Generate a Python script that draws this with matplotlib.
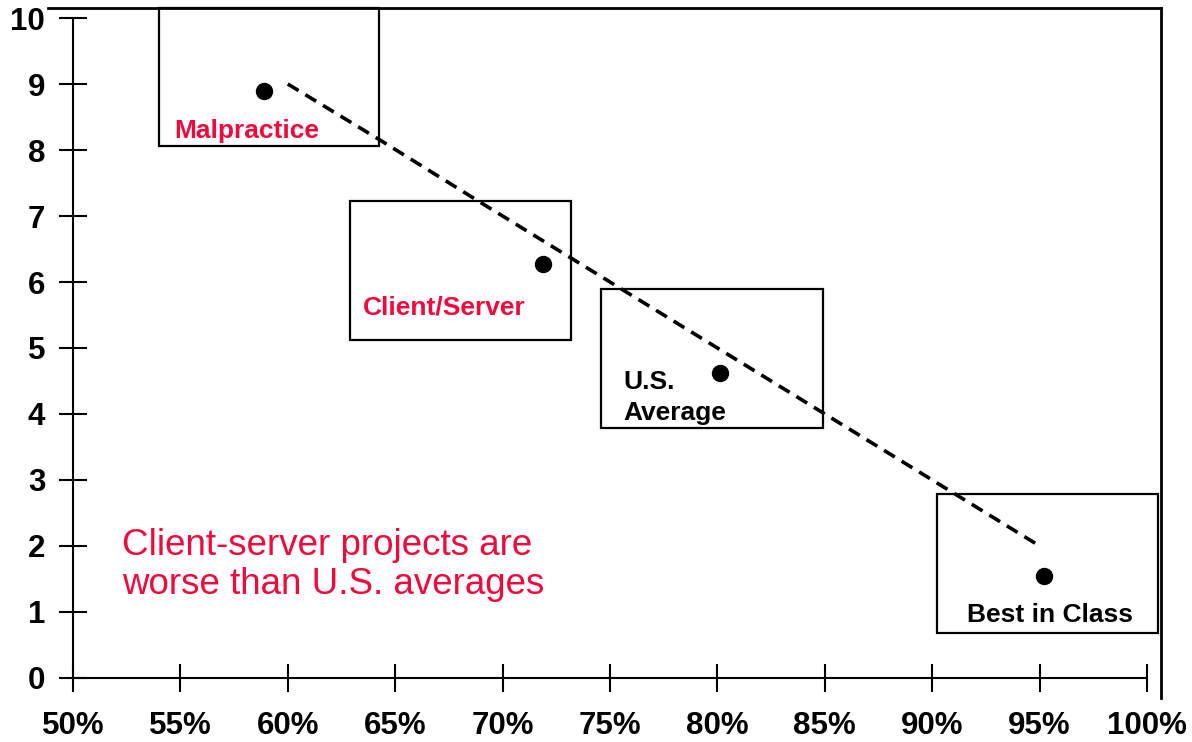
import matplotlib.pyplot as plt
from matplotlib.patches import Rectangle
from matplotlib.lines import Line2D

plt.rcParams['font.family'] = ['Liberation Sans', 'DejaVu Sans']

# Punkty (procent, wartosc)
point_names = ['Malpractice', 'Client/Server', 'U.S.\nAverage', 'Best in Class']
point_x = [58.9, 71.9, 80.1, 95.2]
point_y = [8.9, 6.27, 4.62, 1.55]

# Linia trendu
trend_x = [60, 64.3, 69, 75, 80, 85, 90, 95]
trend_y = [9.0, 8.15, 7.2, 6.0, 5.0, 4.0, 3.0, 2.0]

x_ticks = [50, 55, 60, 65, 70, 75, 80, 85, 90, 95, 100]
x_labels = ['50%', '55%', '60%', '65%', '70%', '75%', '80%', '85%', '90%', '95%', '100%']
y_ticks = [0, 1, 2, 3, 4, 5, 6, 7, 8, 9, 10]

red = '#ee0a3c'

fig = plt.figure(figsize=(11.92, 7.42), dpi=100)
ax = fig.add_axes([0.0612, 0.0863, 0.9011, 0.8894])

ax.plot(trend_x, trend_y, color='black', linestyle=(0, (3.5, 2.2)), linewidth=2.6)
ax.plot(point_x, point_y, 'o', color='black', markersize=11.5, zorder=5)

# Ramki z opisami: (x0, y0, x1, y1)
boxes = [(54.0, 8.06, 64.25, 10.15),
         (62.9, 5.12, 73.2, 7.23),
         (74.6, 3.79, 84.9, 5.89),
         (90.2, 0.68, 100.5, 2.79)]
for x0, y0, x1, y1 in boxes:
    ax.add_patch(Rectangle((x0, y0), x1 - x0, y1 - y0, fill=False,
                           edgecolor='black', linewidth=1.6, clip_on=False))

ax.text(58.1, 8.29, 'Malpractice', color=red, fontsize=19, fontweight='bold',
        ha='center', va='center')
ax.text(67.3, 5.62, 'Client/Server', color=red, fontsize=19, fontweight='bold',
        ha='center', va='center')
ax.text(75.6, 4.25, 'U.S.\nAverage', color='black', fontsize=19, fontweight='bold',
        ha='left', va='center', linespacing=1.4)
ax.text(95.5, 0.95, 'Best in Class', color='black', fontsize=19, fontweight='bold',
        ha='center', va='center')

ax.text(52.3, 1.71, 'Client-server projects are\nworse than U.S. averages',
        color=red, fontsize=26.5, ha='left', va='center', linespacing=1.12)

ax.set_xlim(50, 100)
ax.set_ylim(0, 10)
ax.set_xticks(x_ticks)
ax.set_xticklabels(x_labels)
ax.set_yticks(y_ticks)
for s in ['top', 'right']:
    ax.spines[s].set_visible(False)
for s in ['left', 'bottom']:
    ax.spines[s].set_linewidth(1.5)
ax.tick_params(direction='inout', length=20, width=1.5, labelsize=22.5)
ax.tick_params(axis='x', pad=14)
ax.tick_params(axis='y', pad=10)
for lab in ax.get_xticklabels() + ax.get_yticklabels():
    lab.set_fontweight('bold')

# Ramka obrazka (gora i prawa strona)
fig.add_artist(Line2D([48 / 1192, 1161 / 1192], [1 - 8 / 742, 1 - 8 / 742],
                      color='black', linewidth=2))
fig.add_artist(Line2D([1161 / 1192, 1161 / 1192], [1 - 8 / 742, 1 - 698 / 742],
                      color='black', linewidth=2))

plt.savefig('out.png', dpi=100)
